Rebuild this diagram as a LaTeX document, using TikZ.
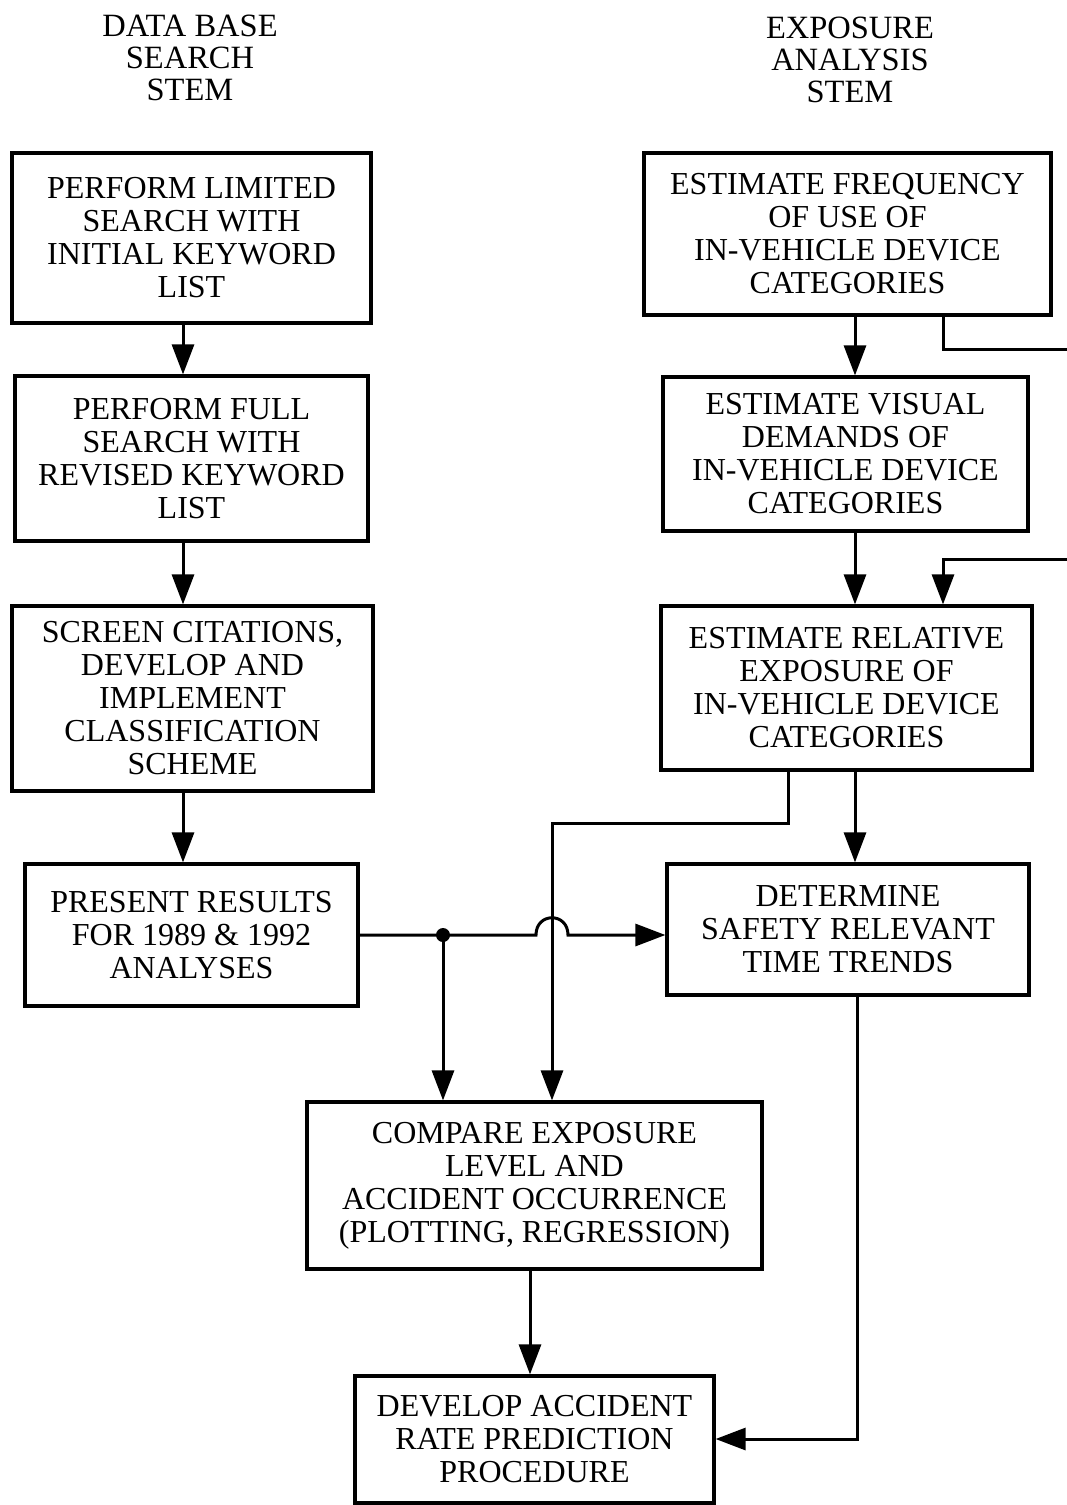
\documentclass[tikz,border=0pt]{standalone}
\usepackage{fontspec}
\setmainfont{Liberation Serif}
\usetikzlibrary{arrows.meta}
\begin{document}
\begin{tikzpicture}[x=1pt,y=-1pt,
  box/.style={draw, line width=3.2pt, align=center, inner sep=0pt,
    font=\fontsize{32}{33}\selectfont},
  ttl/.style={align=center, inner sep=0pt, font=\fontsize{32.5}{32}\selectfont},
  link/.style={line width=3pt},
  arr/.style={link, -{Triangle[length=30pt,width=22pt]}}]
\useasboundingbox (0,0) rectangle (1067,1505);

% column headings
\node[ttl] (t1) at (190,58) {DATA BASE\\SEARCH\\STEM};
\node[ttl] (t2) at (850,60) {EXPOSURE\\ANALYSIS\\STEM};

% data base search stem
\node[box, minimum width=359pt, minimum height=170pt] (b1) at (191.5,238)
  {PERFORM LIMITED\\SEARCH WITH\\INITIAL KEYWORD\\LIST};
\node[box, minimum width=353pt, minimum height=165pt] (b2) at (191.5,458.5)
  {PERFORM FULL\\SEARCH WITH\\REVISED KEYWORD\\LIST};
\node[box, minimum width=361pt, minimum height=185pt] (b3) at (192.5,698.5)
  {SCREEN CITATIONS,\\DEVELOP AND\\IMPLEMENT\\CLASSIFICATION\\SCHEME};
\node[box, minimum width=333pt, minimum height=142pt] (b4) at (191.5,935)
  {PRESENT RESULTS\\FOR 1989 \& 1992\\ANALYSES};

% exposure analysis stem
\node[box, minimum width=407pt, minimum height=162pt] (fA) at (847.5,234)
  {ESTIMATE FREQUENCY\\OF USE OF\\IN-VEHICLE DEVICE\\CATEGORIES};
\node[box, minimum width=365pt, minimum height=154pt] (fB) at (845.5,454)
  {ESTIMATE VISUAL\\DEMANDS OF\\IN-VEHICLE DEVICE\\CATEGORIES};
\node[box, minimum width=371pt, minimum height=164pt] (fC) at (846.5,688)
  {ESTIMATE RELATIVE\\EXPOSURE OF\\IN-VEHICLE DEVICE\\CATEGORIES};
\node[box, minimum width=362pt, minimum height=131pt] (fD) at (848,929.5)
  {DETERMINE\\SAFETY RELEVANT\\TIME TRENDS};

% merged steps
\node[box, minimum width=455pt, minimum height=167pt] (E) at (534.5,1185.5)
  {COMPARE EXPOSURE\\LEVEL AND\\ACCIDENT OCCURRENCE\\(PLOTTING, REGRESSION)};
\node[box, minimum width=359pt, minimum height=127pt] (F) at (534.5,1439.5)
  {DEVELOP ACCIDENT\\RATE PREDICTION\\PROCEDURE};

% left column flow
\coordinate (lx) at (183,0);
\draw[arr] (b1.south -| lx) -- (b2.north -| lx);
\draw[arr] (b2.south -| lx) -- (b3.north -| lx);
\draw[arr] (b3.south -| lx) -- (b4.north -| lx);

% right column flow
\coordinate (rx) at (855,0);
\draw[arr] (fA.south -| rx) -- (fB.north -| rx);
\draw[arr] (fB.south -| rx) -- (fC.north -| rx);
\draw[arr] (fC.south -| rx) -- (fD.north -| rx);

% side branch leaving the frequency estimate
\coordinate (fa1) at (943,349);
\coordinate (fa2) at (1067,349);
\draw[link] (fA.south -| fa1) -- (fa1) -- (fa2);

% side branch entering the relative exposure estimate
\coordinate (fc1) at (1067,559);
\coordinate (fc2) at (943,559);
\draw[arr] (fc1) -- (fc2) -- (fC.north -| fc2);

% relative exposure down to the comparison
\coordinate (cb1) at (788,823);
\coordinate (cb2) at (552,823);
\draw[arr] (fC.south -| cb1) -- (cb1) -- (cb2) -- (E.north -| cb2);

% results line with junction and crossing hop
\coordinate (jn) at (443,935);
\coordinate (hl) at (536,935);
\coordinate (hr) at (568,935);
\draw[arr] (b4.east) -- (hl) .. controls +(0,-23) and +(0,-23) .. (hr)
  -- (fD.west |- hr);
\fill (jn) circle[radius=7pt];
\draw[arr] (jn) -- (E.north -| jn);

% time trends to the prediction procedure
\coordinate (dd) at (857,1439);
\draw[arr] (fD.south -| dd) -- (dd) -- (F.east |- dd);

% comparison to the prediction procedure
\coordinate (ef) at (530,0);
\draw[arr] (E.south -| ef) -- (F.north -| ef);
\end{tikzpicture}
\end{document}
